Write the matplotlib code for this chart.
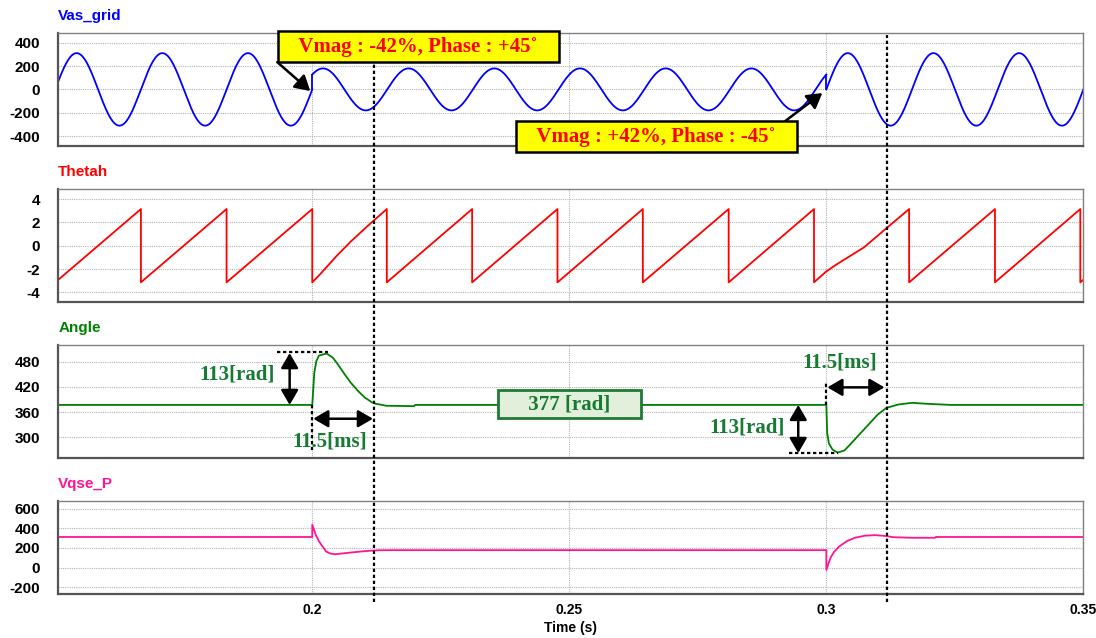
import numpy as np
import matplotlib
matplotlib.use('Agg')
import matplotlib.pyplot as plt
from matplotlib.lines import Line2D
from matplotlib.transforms import blended_transform_factory

# ---- values ----
t_min, t_max = 0.1506, 0.35
x_ticks = [0.2, 0.25, 0.3, 0.35]

# Vas_grid: sine segments (start, end, peak [V], phase step [deg])
vas_seg_start = [0.1506, 0.2, 0.3]
vas_seg_end = [0.2, 0.3, 0.35]
vas_seg_peak = [311, 180, 311]
vas_seg_phase = [0, 45, 0]
grid_freq = 60

# Thetah: sawtooth corners
theta_t = [0.1506, 0.16667, 0.16667, 0.18333, 0.18333, 0.2, 0.2, 0.2012, 0.2048,
           0.2076, 0.2103, 0.2117, 0.2145, 0.2145, 0.2311, 0.2311, 0.2477, 0.2477,
           0.2643, 0.2643, 0.2810, 0.2810, 0.2976, 0.2976, 0.3, 0.302, 0.304, 0.3073,
           0.3117, 0.3161, 0.3161, 0.3328, 0.3328, 0.3494, 0.3494, 0.35]
theta_v = [-2.92, 3.14, -3.14, 3.14, -3.14, 3.14, -3.14, -2.6, -0.85,
           0.4, 1.5, 2.05, 3.14, -3.14, 3.14, -3.14, 3.14, -3.14,
           3.14, -3.14, 3.14, -3.14, 3.14, -3.14, -2.2, -1.6, -1.05, -0.15,
           1.5, 3.14, -3.14, 3.14, -3.14, 3.14, -3.14, -2.92]

# Angle (PLL frequency, rad/s)
angle_t = [0.1506, 0.2, 0.2004, 0.2008, 0.2013, 0.2028, 0.2040, 0.2048, 0.2062,
           0.2075, 0.2090, 0.2103, 0.2115, 0.2123, 0.2144, 0.2198, 0.2200,
           0.3, 0.30016, 0.3005, 0.3012, 0.3022, 0.3035, 0.3046, 0.3073, 0.3100,
           0.3117, 0.3140, 0.3167, 0.3191, 0.3242, 0.35]
angle_v = [377, 377, 455, 482, 495, 500, 490, 477, 452,
           430, 409, 394, 384, 380, 375, 374, 377,
           377, 310, 285, 270, 263, 268, 282, 318, 354,
           370, 378, 382, 380, 377, 377]

# Vqse_P
vq_t = [0.1506, 0.2, 0.2, 0.2007, 0.20133, 0.2027, 0.2036, 0.2045, 0.2075, 0.2102,
        0.2129, 0.216, 0.3, 0.3, 0.3008, 0.3015, 0.3025, 0.304, 0.3056, 0.3075,
        0.3095, 0.3115, 0.3130, 0.3165, 0.3212, 0.3213, 0.35]
vq_v = [312, 312, 437, 330, 266, 164, 142, 137, 154, 168,
        177, 178, 178, -23, 100, 160, 215, 270, 305, 325,
        331, 322, 310, 304, 304, 312, 312]

event_lines = [0.2121, 0.3117]

plt.rcParams['font.family'] = ['Liberation Sans', 'DejaVu Sans']
plt.rcParams['font.weight'] = 'bold'
plt.rcParams['axes.unicode_minus'] = False

fig = plt.figure(figsize=(10.96, 6.38), dpi=100)
left, width = 0.0532, 0.9353
ax1 = fig.add_axes([left, 0.7716, width, 0.1771])
ax2 = fig.add_axes([left, 0.5271, width, 0.1767])
ax3 = fig.add_axes([left, 0.2821, width, 0.1776])
ax4 = fig.add_axes([left, 0.0685, width, 0.1467])


def style(ax, title, color, ylim, yticks):
    ax.set_xlim(t_min, t_max)
    ax.set_ylim(*ylim)
    ax.set_yticks(yticks)
    ax.set_xticks(x_ticks)
    ax.grid(True, color='#b4b4b4', linestyle=(0, (1, 1)), linewidth=0.8)
    ax.tick_params(axis='y', length=0, pad=13, labelsize=11)
    ax.tick_params(axis='x', length=0, pad=6, labelsize=10)
    for side in ['left', 'bottom']:
        ax.spines[side].set_color('#555555')
        ax.spines[side].set_linewidth(1.6)
    for side in ['top', 'right']:
        ax.spines[side].set_color('#808080')
        ax.spines[side].set_linewidth(1.0)
    ax.annotate(title, xy=(0, 1), xycoords='axes fraction', xytext=(0, 12),
                textcoords='offset points', va='center', ha='left',
                color=color, fontsize=11, fontweight='bold')


# Vas_grid
for s, e, amp, ph in zip(vas_seg_start, vas_seg_end, vas_seg_peak, vas_seg_phase):
    tt = np.linspace(s, e, 600)
    vv = amp * np.sin(2 * np.pi * grid_freq * (tt - 0.2) + np.deg2rad(ph))
    ax1.plot(tt, vv, color='#0000ff', lw=1.3)
ax1.plot([0.2, 0.2], [0, vas_seg_peak[1] * np.sin(np.deg2rad(vas_seg_phase[1]))], color='#0000ff', lw=1.3)
ax1.plot([0.3, 0.3], [0, vas_seg_peak[1] * np.sin(2 * np.pi * grid_freq * 0.1 + np.deg2rad(vas_seg_phase[1]))],
         color='#0000ff', lw=1.3)
style(ax1, 'Vas_grid', '#0000ff', (-483, 486), [-400, -200, 0, 200, 400])

ax2.plot(theta_t, theta_v, color='#ff0000', lw=1.3)
style(ax2, 'Thetah', '#ff0000', (-4.8, 4.86), [-4, -2, 0, 2, 4])

ax3.plot(angle_t, angle_v, color='#008000', lw=1.3)
style(ax3, 'Angle', '#008000', (250, 521), [300, 360, 420, 480])

ax4.plot(vq_t, vq_v, color='#ff1493', lw=1.3)
style(ax4, 'Vqse_P', '#ff1493', (-271, 681), [-200, 0, 200, 400, 600])

for ax in [ax1, ax2, ax3]:
    ax.tick_params(labelbottom=False)
ax4.set_xticklabels(['0.2', '0.25', '0.3', '0.35'])
ax4.set_xlabel('Time (s)', fontsize=10, fontweight='bold', labelpad=3)

# --- annotations ---
serif = 'Liberation Serif'
ybox = dict(boxstyle='square,pad=0.25', fc='yellow', ec='black', lw=1.8)
ax1.text(0.2206, 367, '   Vmag : -42%, Phase : +45˚   ', ha='center', va='center',
         fontsize=15, family=serif, weight='bold', color='red', zorder=10, bbox=ybox)
ax1.text(0.2669, -404, '   Vmag : +42%, Phase : -45˚   ', ha='center', va='center',
         fontsize=15, family=serif, weight='bold', color='red', zorder=10, bbox=ybox)
arrow = dict(arrowstyle='-|>,head_length=0.6,head_width=0.35', color='black', lw=1.8,
             mutation_scale=15, shrinkA=0, shrinkB=0)
ax1.annotate('', xy=(0.19961, -14), xytext=(0.19319, 234), arrowprops=arrow, zorder=9)
ax1.annotate('', xy=(0.29922, -31), xytext=(0.29202, -271), arrowprops=arrow, zorder=9)

green = '#157a32'
dbl = dict(arrowstyle='<|-|>,head_length=0.6,head_width=0.35', color='black', lw=1.8,
           mutation_scale=15, shrinkA=0, shrinkB=0)
dot = dict(color='black', lw=1.6, ls=(0, (1.5, 1.2)))
ax3.text(0.25, 379, '     377 [rad]     ', ha='center', va='center', fontsize=15, family=serif,
         weight='bold', color=green, zorder=10,
         bbox=dict(boxstyle='square,pad=0.2', fc='#e2efda', ec='#1e7b34', lw=2))
ax3.plot([0.1932, 0.2031], [503, 503], **dot)
ax3.plot([0.2, 0.2], [377, 270], **dot)
ax3.annotate('', xy=(0.1956, 377), xytext=(0.1956, 501), arrowprops=dbl)
ax3.text(0.18538, 449.6, '113[rad]', ha='center', va='center', fontsize=15,
         family=serif, weight='bold', color=green)
ax3.annotate('', xy=(0.2002, 344), xytext=(0.2118, 344), arrowprops=dbl)
ax3.text(0.20344, 289.6, '11.5[ms]', ha='center', va='center', fontsize=15,
         family=serif, weight='bold', color=green)

ax3.plot([0.3, 0.3], [377, 432], **dot)
ax3.plot([0.2927, 0.3022], [261.6, 261.6], **dot)
ax3.annotate('', xy=(0.3002, 419), xytext=(0.3113, 419), arrowprops=dbl)
ax3.text(0.30264, 477.6, '11.5[ms]', ha='center', va='center', fontsize=15,
         family=serif, weight='bold', color=green)
ax3.annotate('', xy=(0.29453, 377), xytext=(0.29453, 262), arrowprops=dbl)
ax3.text(0.28457, 324, '113[rad]', ha='center', va='center', fontsize=15,
         family=serif, weight='bold', color=green)

# dashed marker lines through all panels
trans = blended_transform_factory(ax4.transData, fig.transFigure)
for tx, ytop in zip(event_lines, [0.901, 0.945]):
    fig.add_artist(Line2D([tx, tx], [0.056, ytop], transform=trans, color='black',
                          lw=1.6, ls=(0, (1.5, 1.2)), zorder=20))

fig.savefig('out.png', dpi=100)
